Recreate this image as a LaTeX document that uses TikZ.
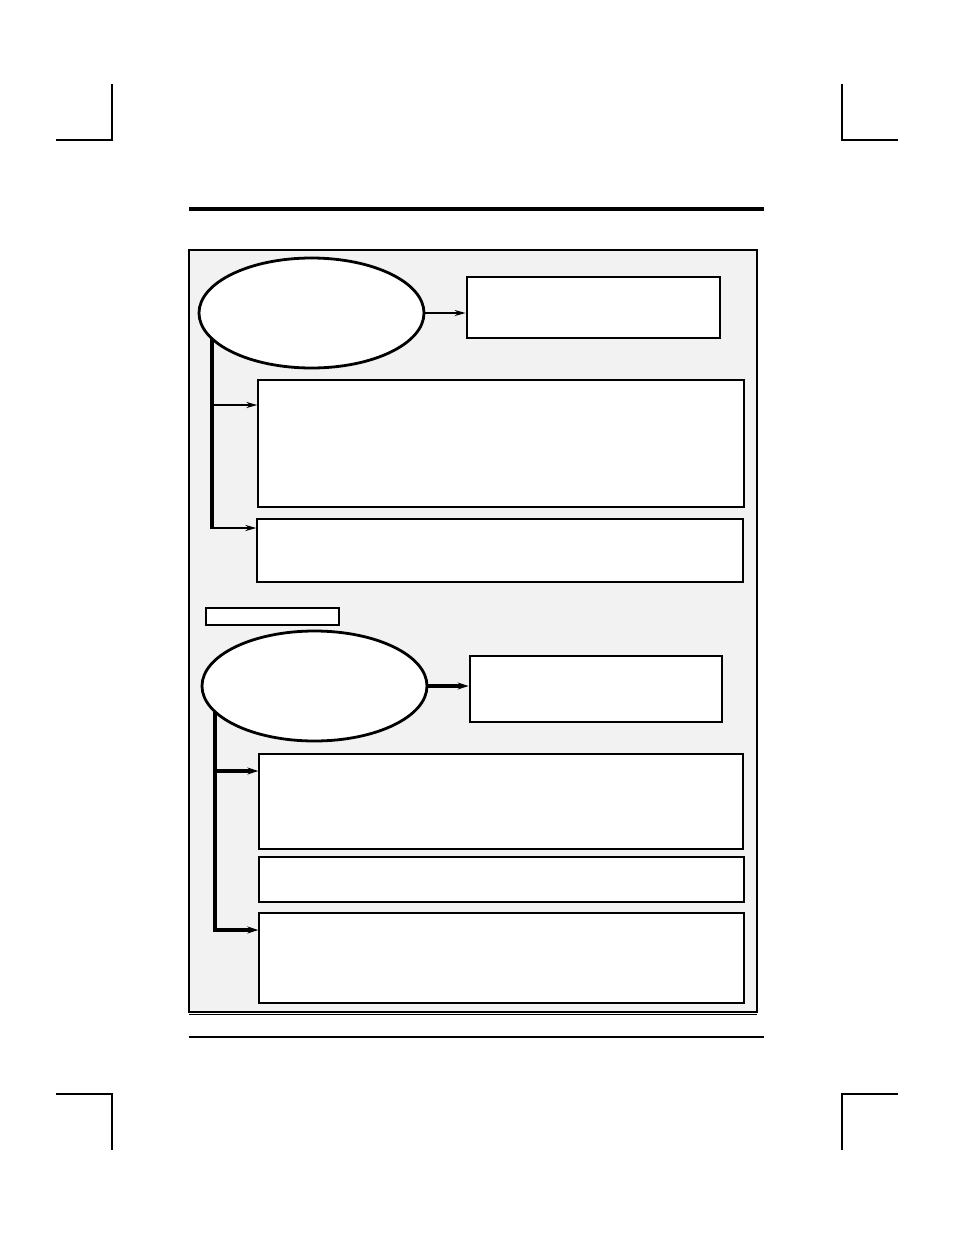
\documentclass[tikz,border=0pt]{standalone}
\usetikzlibrary{shapes.geometric,arrows.meta}
\begin{document}
\begin{tikzpicture}[x=1pt,y=-1pt,
  crop/.style={line width=1.3pt},
  thinbox/.style={draw,fill=white,line width=1.3pt,inner sep=0pt},
  thickbox/.style={draw,fill=white,line width=2.8pt,inner sep=0pt},
  oval/.style={ellipse,draw,fill=white,line width=2.8pt,inner sep=0pt,minimum width=225pt,minimum height=110pt},
  arr/.style={-{Stealth[length=11pt,width=6pt]},line width=1.8pt},
  arrthick/.style={-{Stealth[length=11pt,width=7pt]},line width=3.2pt},
  trunk/.style={line width=3.2pt}]
\useasboundingbox (0,0) rectangle (954,1235);
% crop marks
\draw[crop] (112,84) -- (112,140) -- (56,140);
\draw[crop] (842,84) -- (842,140) -- (898,140);
\draw[crop] (56,1094) -- (112,1094) -- (112,1150);
\draw[crop] (898,1094) -- (842,1094) -- (842,1150);
% rules
\draw[line width=3.3pt] (189,209) -- (764,209);
\draw[line width=1.3pt] (189,1037) -- (764,1037);
% panel
\node[draw,fill=gray!10,line width=1.5pt,inner sep=0pt,minimum width=568pt,minimum height=762pt] (panel) at (473,631) {};
\draw[line width=1.3pt] (189,1014.5) -- (757,1014.5);
% group 1
\node[oval] (e1) at (311.5,313) {};
\node[thickbox,minimum width=253pt,minimum height=61pt] (b1) at (593.5,307.5) {};
\node[thinbox,minimum width=486pt,minimum height=127pt] (b2) at (501,443.5) {};
\node[thinbox,minimum width=486pt,minimum height=63pt] (b3) at (500,550.5) {};
\draw[arr] (e1.east) -- (e1.east -| b1.west);
\coordinate (t1) at (212,339);
\coordinate (j1) at (212,405);
\coordinate (j1b) at (212,528);
\draw[trunk] (t1) -- ([yshift=1.1pt]j1b);
\draw[arr] (j1) -- (j1 -| b2.west);
\draw[arr,line width=2.2pt] ([xshift=-1.6pt]j1b) -- (j1b -| b3.west);
% label box
\node[thinbox,minimum width=133pt,minimum height=17pt] (lab) at (272.5,616.5) {};
% group 2
\node[oval] (e2) at (314.5,686) {};
\node[thickbox,minimum width=252pt,minimum height=66pt] (b4) at (596,689) {};
\node[thinbox,minimum width=484pt,minimum height=95pt] (b5) at (501,801.5) {};
\node[thinbox,minimum width=485pt,minimum height=45pt] (b6) at (501.5,879.5) {};
\node[thinbox,minimum width=485pt,minimum height=90pt] (b7) at (501.5,958) {};
\draw[arrthick] (e2.east) -- (e2.east -| b4.west);
\coordinate (t2) at (215,712);
\coordinate (j2) at (215,771);
\coordinate (j3) at (215,930);
\draw[trunk] (t2) -- (j3) -- ++(6,0);
\draw[arrthick] (j2) -- (j2 -| b5.west);
\draw[arrthick] ([xshift=-1.5pt]j3) -- (j3 -| b7.west);
\end{tikzpicture}
\end{document}
